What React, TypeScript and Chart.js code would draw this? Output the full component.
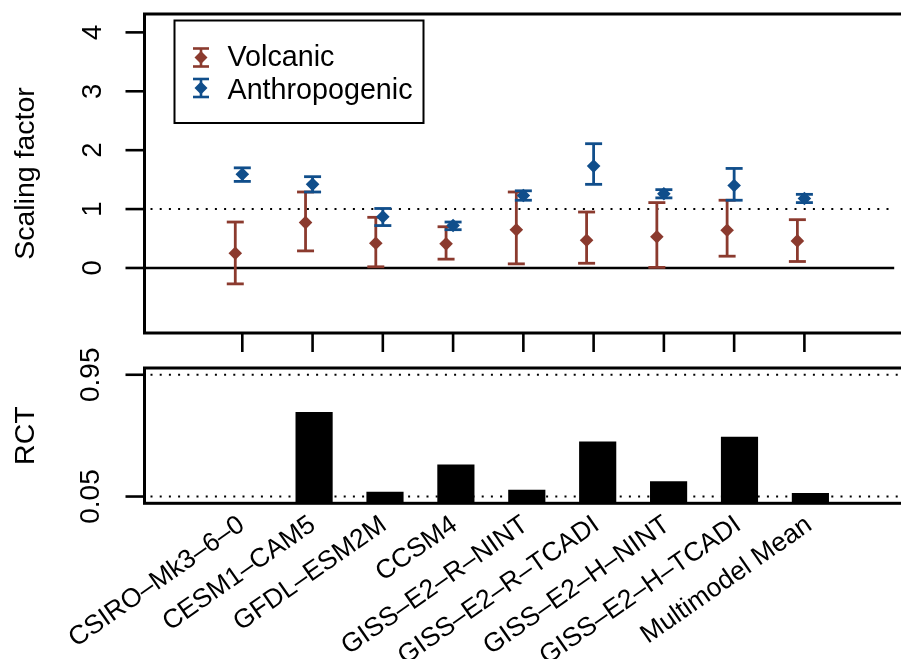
import React, { useEffect, useRef } from "react";
import { Chart, registerables } from "chart.js";

Chart.register(...registerables);

// ---- data ----
const models = [
  "CSIRO–Mk3–6–0",
  "CESM1–CAM5",
  "GFDL–ESM2M",
  "CCSM4",
  "GISS–E2–R–NINT",
  "GISS–E2–R–TCADI",
  "GISS–E2–H–NINT",
  "GISS–E2–H–TCADI",
  "Multimodel Mean",
];
const volcanicMid = [0.25, 0.77, 0.42, 0.41, 0.65, 0.47, 0.53, 0.64, 0.46];
const volcanicLow = [-0.27, 0.29, 0.02, 0.15, 0.07, 0.08, 0.01, 0.2, 0.11];
const volcanicHigh = [0.78, 1.29, 0.86, 0.7, 1.29, 0.95, 1.11, 1.15, 0.82];
const anthroMid = [1.59, 1.42, 0.87, 0.72, 1.23, 1.73, 1.26, 1.4, 1.18];
const anthroLow = [1.47, 1.29, 0.72, 0.65, 1.15, 1.42, 1.19, 1.15, 1.11];
const anthroHigh = [1.7, 1.55, 1.01, 0.78, 1.31, 2.11, 1.33, 1.69, 1.25];
const rct = [0.007, 0.672, 0.083, 0.285, 0.098, 0.455, 0.16, 0.49, 0.074];
const scalingTicks = [0, 1, 2, 3, 4];
const rctTicks = [0.05, 0.95];
const seriesNames = ["Volcanic", "Anthropogenic"];

// ---- style ----
const BROWN = "#8B3A2E";
const BLUE = "#104E8B";
const FONT = '"Liberation Sans", Arial, Helvetica, sans-serif';
const XMIN = -1.392;
const XMAX = 9.278;
const VOLC_SHIFT = -0.1;

function hLine(ctx: CanvasRenderingContext2D, x1: number, x2: number, y: number) {
  ctx.beginPath();
  ctx.moveTo(x1, y);
  ctx.lineTo(x2, y);
  ctx.stroke();
}
function vLine(ctx: CanvasRenderingContext2D, x: number, y1: number, y2: number) {
  ctx.beginPath();
  ctx.moveTo(x, y1);
  ctx.lineTo(x, y2);
  ctx.stroke();
}
function diamond(ctx: CanvasRenderingContext2D, x: number, y: number, r: number) {
  ctx.beginPath();
  ctx.moveTo(x, y - r);
  ctx.lineTo(x + r, y);
  ctx.lineTo(x, y + r);
  ctx.lineTo(x - r, y);
  ctx.closePath();
  ctx.fill();
}
function vText(ctx: CanvasRenderingContext2D, text: string, x: number, y: number, size: number) {
  ctx.save();
  ctx.translate(x, y);
  ctx.rotate(-Math.PI / 2);
  ctx.font = `${size}px ${FONT}`;
  ctx.fillStyle = "#000";
  ctx.textAlign = "center";
  ctx.textBaseline = "alphabetic";
  ctx.fillText(text, 0, 0);
  ctx.restore();
}

const topPlugin = {
  id: "topDecor",
  beforeDatasetsDraw(chart: any) {
    const { ctx, chartArea: a, scales } = chart;
    const x = scales.x;
    const y = scales.y;
    ctx.save();
    ctx.strokeStyle = "#000";
    ctx.lineWidth = 2.6;
    hLine(ctx, a.left, a.right, y.getPixelForValue(0));
    ctx.lineWidth = 2;
    ctx.setLineDash([2, 7.2]);
    hLine(ctx, a.left + 6, a.right, y.getPixelForValue(1));
    ctx.setLineDash([]);
    chart.data.datasets.forEach((ds: any) => {
      ctx.strokeStyle = ds.borderColor;
      ctx.lineWidth = 2.8;
      ds.data.forEach((p: any, i: number) => {
        const px = x.getPixelForValue(p.x);
        const lo = y.getPixelForValue(ds.errLow[i]);
        const hi = y.getPixelForValue(ds.errHigh[i]);
        vLine(ctx, px, lo, hi);
        hLine(ctx, px - 8.5, px + 8.5, lo);
        hLine(ctx, px - 8.5, px + 8.5, hi);
      });
    });
    ctx.restore();
  },
  afterDraw(chart: any) {
    const { ctx, chartArea: a, scales } = chart;
    const x = scales.x;
    const y = scales.y;
    ctx.save();
    ctx.strokeStyle = "#000";
    ctx.lineWidth = 3;
    ctx.strokeRect(a.left, a.top, a.right - a.left + 10, a.bottom - a.top);
    ctx.lineWidth = 2.6;
    scalingTicks.forEach((v) => {
      const py = y.getPixelForValue(v);
      hLine(ctx, a.left - 19, a.left, py);
      vText(ctx, String(v), 100.5, py, 27.5);
    });
    models.forEach((_, i) => {
      const px = x.getPixelForValue(i);
      vLine(ctx, px, a.bottom, a.bottom + 19);
    });
    vText(ctx, "Scaling factor", 33.5, (a.top + a.bottom) / 2, 28.5);

    // legend
    const lx = a.left + 30;
    const ly = a.top + 6.5;
    ctx.lineWidth = 2;
    ctx.strokeRect(lx, ly, 249, 102.5);
    const rows = [57.5 - ly, 88 - ly];
    chart.data.datasets.forEach((ds: any, k: number) => {
      const cy = ly + rows[k];
      const cx = lx + 26.5;
      ctx.strokeStyle = ds.borderColor;
      ctx.fillStyle = ds.borderColor;
      ctx.lineWidth = 2.6;
      vLine(ctx, cx, cy - 9, cy + 9);
      hLine(ctx, cx - 8, cx + 8, cy - 9);
      hLine(ctx, cx - 8, cx + 8, cy + 9);
      diamond(ctx, cx, cy, 6.5);
      ctx.fillStyle = "#000";
      ctx.font = `28.7px ${FONT}`;
      ctx.textAlign = "left";
      ctx.textBaseline = "alphabetic";
      ctx.fillText(ds.label, lx + 53, cy + 8 + (k === 1 ? 2.5 : 0));
    });
    ctx.restore();
  },
};

const bottomPlugin = {
  id: "bottomDecor",
  beforeDatasetsDraw(chart: any) {
    const { ctx, chartArea: a, scales } = chart;
    const y = scales.y;
    ctx.save();
    ctx.strokeStyle = "#000";
    ctx.lineWidth = 2;
    ctx.setLineDash([2, 7.2]);
    rctTicks.forEach((v) => hLine(ctx, a.left + 6, a.right, y.getPixelForValue(v)));
    ctx.restore();
  },
  afterDraw(chart: any) {
    const { ctx, chartArea: a, scales } = chart;
    const x = scales.x;
    const y = scales.y;
    ctx.save();
    ctx.strokeStyle = "#000";
    ctx.lineWidth = 3;
    ctx.strokeRect(a.left, a.top, a.right - a.left + 10, a.bottom - a.top);
    ctx.lineWidth = 2.6;
    rctTicks.forEach((v) => {
      const py = y.getPixelForValue(v);
      hLine(ctx, a.left - 19, a.left, py);
      vText(ctx, String(v), 99, py, 28);
    });
    vText(ctx, "RCT", 33.5, (a.top + a.bottom) / 2, 28.5);
    ctx.fillStyle = "#000";
    ctx.font = `26.5px ${FONT}`;
    ctx.textAlign = "right";
    ctx.textBaseline = "alphabetic";
    models.forEach((m, i) => {
      const px = x.getPixelForValue(i);
      ctx.save();
      ctx.translate(px + 3, a.bottom + 25);
      ctx.rotate((-35 * Math.PI) / 180);
      ctx.fillText(m, 0, 0);
      ctx.restore();
    });
    ctx.restore();
  },
};

export default function App() {
  const topRef = useRef<HTMLCanvasElement>(null);
  const botRef = useRef<HTMLCanvasElement>(null);

  useEffect(() => {
    const top = new Chart(topRef.current as HTMLCanvasElement, {
      type: "scatter",
      data: {
        datasets: [
          {
            label: seriesNames[0],
            data: volcanicMid.map((v, i) => ({ x: i + VOLC_SHIFT, y: v })),
            backgroundColor: BROWN,
            borderColor: BROWN,
            pointStyle: "rectRot",
            pointRadius: 6.8,
            pointBorderWidth: 0,
            errLow: volcanicLow,
            errHigh: volcanicHigh,
          } as any,
          {
            label: seriesNames[1],
            data: anthroMid.map((v, i) => ({ x: i, y: v })),
            backgroundColor: BLUE,
            borderColor: BLUE,
            pointStyle: "rectRot",
            pointRadius: 6.8,
            pointBorderWidth: 0,
            errLow: anthroLow,
            errHigh: anthroHigh,
          } as any,
        ],
      },
      options: {
        animation: false,
        responsive: false,
        layout: { padding: { left: 144.5, top: 14, right: 0, bottom: 659 - 333 } },
        plugins: { legend: { display: false }, tooltip: { enabled: false } },
        scales: {
          x: { type: "linear", min: XMIN, max: XMAX, display: false, offset: false },
          y: { type: "linear", min: -1.104, max: 4.312, display: false },
        },
      },
      plugins: [topPlugin],
    });

    const bot = new Chart(botRef.current as HTMLCanvasElement, {
      type: "bar",
      data: {
        datasets: [
          {
            label: "RCT",
            data: rct.map((v, i) => ({ x: i, y: v })),
            backgroundColor: "#000",
            borderWidth: 0,
            barThickness: 36.5,
          } as any,
        ],
      },
      options: {
        animation: false,
        responsive: false,
        layout: { padding: { left: 144.5, top: 368, right: 0, bottom: 659 - 503.3 } },
        plugins: { legend: { display: false }, tooltip: { enabled: false } },
        scales: {
          x: { type: "linear", min: XMIN, max: XMAX, display: false, offset: false },
          y: { type: "linear", min: 0, max: 1, display: false },
        },
      },
      plugins: [bottomPlugin],
    });

    return () => {
      top.destroy();
      bot.destroy();
    };
  }, []);

  const cstyle: React.CSSProperties = { position: "absolute", left: 0, top: 0, display: "block" };
  return (
    <div style={{ position: "absolute", left: 0, top: 0, width: 901, height: 659, background: "#fff" }}>
      <canvas ref={topRef} width={901} height={659} style={cstyle} />
      <canvas ref={botRef} width={901} height={659} style={cstyle} />
    </div>
  );
}
